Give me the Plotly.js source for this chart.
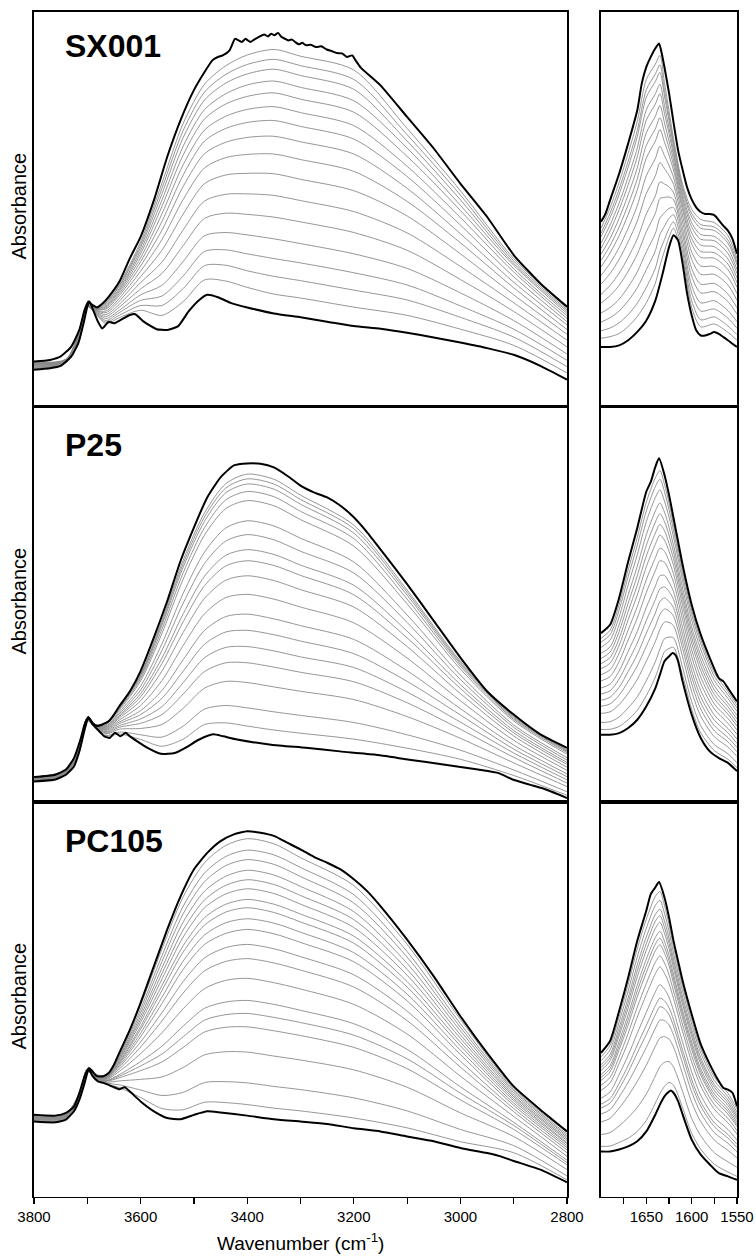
<!DOCTYPE html>
<html>
<head>
<meta charset="utf-8">
<script src="https://cdn.plot.ly/plotly-3.0.1.min.js"></script>
<style>html,body{margin:0;padding:0;background:#fff;}#chart{width:756px;height:1256px;}</style>
</head>
<body>
<div id="chart"></div>
<script>
// ---------- DATA (absorbance in relative units, 0-100 per panel) ----------
const PANEL_LABELS = ['SX001', 'P25', 'PC105'];
const X_TICKS_LEFT = [3800, 3600, 3400, 3200, 3000, 2800];
const X_MINOR_LEFT = [3700, 3500, 3300, 3100, 2900];
const X_TICKS_RIGHT = [1650, 1600, 1550];
const X_MINOR_RIGHT = [1675, 1625, 1575];

// wavenumbers of the grey (intermediate) spectra
const XL = [3800, 3740, 3715, 3700, 3685, 3665, 3640, 3600, 3560, 3520, 3480, 3440, 3400, 3350, 3300, 3200, 3100, 3000, 2900, 2800];
const XR = [1700, 1690, 1680, 1670, 1660, 1650, 1640, 1635, 1630, 1625, 1620, 1610, 1600, 1590, 1575, 1560, 1550];

// ---- SX001 ----
const SX001_BOT_L_X = [3800, 3770, 3750, 3730, 3717, 3707, 3700, 3696, 3688, 3680, 3672, 3660, 3650, 3638, 3620, 3610, 3594, 3570, 3550, 3530, 3510, 3490, 3475, 3455, 3430, 3400, 3350, 3300, 3250, 3200, 3150, 3100, 3050, 3000, 2950, 2900, 2850, 2800];
const SX001_BOT_L_Y = [9.3, 9.7, 10.3, 12.7, 16.0, 21.1, 25.3, 26.6, 24.1, 21.5, 19.8, 21.5, 21.1, 21.9, 23.2, 23.4, 21.5, 19.6, 19.4, 20.3, 24.1, 27.0, 28.3, 27.7, 26.2, 25.1, 23.6, 22.6, 21.5, 20.4, 19.7, 18.7, 17.5, 16.2, 14.8, 13.1, 10.3, 6.8];
const SX001_TOP_L_X = [3800, 3770, 3750, 3730, 3715, 3705, 3698, 3690, 3682, 3670, 3660, 3640, 3620, 3600, 3575, 3550, 3525, 3500, 3480, 3465, 3455, 3446, 3433, 3423, 3416, 3410, 3403, 3394, 3387, 3378, 3368, 3361, 3355, 3349, 3342, 3336, 3329, 3323, 3316, 3310, 3303, 3297, 3290, 3281, 3271, 3261, 3251, 3242, 3232, 3222, 3213, 3203, 3197, 3187, 3150, 3100, 3050, 3000, 2950, 2900, 2850, 2800];
const SX001_TOP_L_Y = [11.4, 11.8, 12.7, 15.2, 19.4, 24.5, 26.6, 25.7, 25.1, 26.3, 27.8, 31.6, 37.6, 43.0, 52.3, 63.3, 72.6, 80.2, 84.8, 87.8, 88.6, 89.0, 90.3, 93.2, 92.8, 92.4, 93.2, 92.4, 93.0, 93.7, 94.3, 93.8, 94.5, 94.1, 94.7, 93.7, 93.2, 92.8, 93.0, 92.4, 91.8, 92.2, 91.6, 91.7, 91.1, 91.3, 90.5, 90.1, 89.6, 89.5, 88.6, 89.0, 87.8, 85.9, 81.4, 73.4, 65.4, 56.5, 48.1, 38.4, 31.2, 25.3];
const SX001_GRAY_L = [
 [9.4, 11.1, 16.7, 25.3, 23.6, 21.0, 22.5, 24.4, 23.1, 26.6, 32.1, 31.8, 30.2, 28.5, 27.5, 25.2, 23.1, 19.6, 15.5, 8.5],
 [9.6, 11.1, 16.9, 25.4, 23.7, 21.4, 23.1, 25.6, 25.6, 29.9, 35.7, 35.8, 34.4, 33.0, 31.9, 29.5, 27.0, 22.6, 17.6, 10.1],
 [9.7, 11.2, 17.1, 25.4, 23.9, 21.8, 23.8, 26.9, 28.0, 33.1, 39.3, 39.7, 38.7, 37.5, 36.4, 33.9, 30.8, 25.5, 19.6, 11.7],
 [9.9, 11.3, 17.3, 25.4, 24.0, 22.3, 24.4, 28.3, 30.7, 36.8, 43.3, 44.1, 43.5, 42.5, 41.3, 38.7, 35.0, 28.8, 21.8, 13.3],
 [10.0, 11.4, 17.5, 25.5, 24.1, 22.8, 25.2, 29.8, 33.7, 40.8, 47.7, 49.0, 48.7, 48.0, 46.8, 44.1, 39.6, 32.2, 24.1, 15.1],
 [10.2, 11.4, 17.7, 25.5, 24.3, 23.3, 25.9, 31.4, 36.6, 44.8, 52.1, 53.8, 53.9, 53.5, 52.2, 49.4, 44.0, 35.5, 26.3, 16.8],
 [10.4, 11.5, 17.9, 25.6, 24.4, 23.8, 26.7, 32.9, 39.6, 48.8, 56.5, 58.7, 59.1, 59.0, 57.6, 54.7, 48.3, 38.7, 28.3, 18.3],
 [10.5, 11.6, 18.1, 25.6, 24.5, 24.2, 27.4, 34.3, 42.3, 52.5, 60.5, 63.1, 63.9, 64.0, 62.6, 59.6, 52.0, 41.5, 30.1, 19.5],
 [10.6, 11.6, 18.4, 25.6, 24.7, 24.7, 28.1, 35.6, 44.7, 55.8, 64.1, 67.0, 68.2, 68.5, 67.1, 64.0, 55.3, 43.8, 31.5, 20.7],
 [10.7, 11.7, 18.5, 25.7, 24.7, 25.0, 28.6, 36.7, 46.9, 58.7, 67.3, 70.5, 72.0, 72.5, 71.0, 67.8, 58.3, 46.0, 32.9, 21.5],
 [10.9, 11.7, 18.6, 25.7, 24.8, 25.3, 29.1, 37.7, 48.8, 61.3, 70.1, 73.6, 75.3, 76.0, 74.5, 71.2, 60.9, 47.9, 34.1, 22.3],
 [11.0, 11.8, 18.8, 25.7, 24.9, 25.6, 29.5, 38.7, 50.7, 63.8, 72.9, 76.7, 78.6, 79.5, 77.9, 74.6, 63.4, 49.7, 34.9, 23.0],
 [11.0, 11.8, 18.9, 25.7, 25.0, 25.9, 29.9, 39.5, 52.3, 66.0, 75.3, 79.3, 81.5, 82.5, 80.9, 77.5, 65.5, 51.0, 35.8, 23.6],
 [11.1, 11.9, 19.1, 25.8, 25.1, 26.2, 30.4, 40.3, 53.9, 68.2, 77.7, 82.0, 84.3, 85.5, 83.9, 80.4, 67.3, 52.4, 36.3, 24.1],
 [11.2, 11.9, 19.2, 25.8, 25.1, 26.4, 30.7, 41.0, 55.3, 70.0, 79.7, 84.2, 86.7, 88.0, 86.4, 82.9, 68.9, 53.6, 36.9, 24.5],
 [11.3, 12.0, 19.3, 25.8, 25.2, 26.7, 31.1, 41.7, 56.6, 71.8, 81.7, 86.4, 89.1, 90.5, 88.8, 85.3, 70.5, 54.7, 37.5, 24.9]
];
const SX001_BOT_R_X = [1700, 1690, 1680, 1670, 1660, 1650, 1640, 1632, 1625, 1620, 1615, 1610, 1605, 1600, 1595, 1590, 1585, 1580, 1575, 1570, 1565, 1560, 1555, 1550];
const SX001_BOT_R_Y = [15.1, 15.1, 15.5, 16.8, 18.9, 21.8, 26.9, 33.7, 40.4, 43.4, 42.1, 36.2, 28.6, 23.1, 19.3, 18.0, 18.0, 18.4, 18.9, 18.4, 17.6, 16.8, 15.9, 15.1];
const SX001_TOP_R_X = [1700, 1695, 1690, 1680, 1670, 1660, 1655, 1650, 1645, 1640, 1636, 1633, 1630, 1625, 1620, 1615, 1610, 1605, 1600, 1595, 1590, 1585, 1580, 1575, 1570, 1565, 1560, 1555, 1550];
const SX001_TOP_R_Y = [46.8, 48.9, 52.3, 59.0, 66.7, 75.1, 81.9, 86.1, 88.7, 90.8, 92.0, 89.5, 86.0, 79.5, 72.0, 65.0, 60.0, 55.5, 52.5, 50.5, 49.3, 48.8, 48.8, 48.5, 47.2, 45.8, 44.6, 42.5, 38.7];
const SX001_GRAY_R = [
 [17.3, 17.7, 18.5, 20.3, 22.8, 26.3, 31.3, 35.7, 39.4, 42.9, 45.2, 37.7, 25.1, 20.2, 20.9, 18.8, 16.8],
 [19.2, 19.9, 21.2, 23.3, 26.2, 30.2, 35.1, 39.4, 42.3, 45.1, 46.8, 39.0, 26.8, 22.0, 22.7, 20.4, 18.2],
 [21.4, 22.5, 24.2, 26.8, 30.1, 34.7, 39.5, 43.6, 45.7, 47.7, 48.6, 40.4, 28.8, 24.2, 24.7, 22.4, 19.8],
 [23.7, 25.1, 27.2, 30.3, 34.1, 39.2, 43.9, 47.8, 49.1, 50.2, 50.4, 41.9, 30.7, 26.3, 26.8, 24.3, 21.5],
 [26.2, 28.1, 30.7, 34.3, 38.6, 44.3, 49.0, 52.7, 53.0, 53.1, 52.4, 43.6, 33.0, 28.8, 29.1, 26.6, 23.4],
 [28.4, 30.7, 33.8, 37.8, 42.5, 48.8, 53.4, 56.9, 56.4, 55.7, 54.2, 45.1, 35.0, 31.0, 31.2, 28.5, 25.0],
 [31.0, 33.7, 37.3, 41.8, 47.0, 54.0, 58.5, 61.8, 60.3, 58.6, 56.3, 46.8, 37.3, 33.5, 33.5, 30.8, 26.9],
 [33.2, 36.3, 40.3, 45.2, 50.9, 58.5, 62.9, 66.0, 63.6, 61.1, 58.1, 48.3, 39.2, 35.6, 35.5, 32.7, 28.6],
 [35.4, 38.9, 43.3, 48.7, 54.9, 63.0, 67.3, 70.2, 67.0, 63.7, 59.9, 49.8, 41.2, 37.8, 37.6, 34.7, 30.2],
 [37.0, 40.8, 45.5, 51.2, 57.7, 66.2, 70.4, 73.2, 69.5, 65.5, 61.2, 50.8, 42.6, 39.3, 39.0, 36.1, 31.4],
 [38.6, 42.6, 47.7, 53.7, 60.5, 69.4, 73.6, 76.3, 71.9, 67.3, 62.5, 51.9, 44.0, 40.9, 40.5, 37.4, 32.6],
 [40.1, 44.5, 49.9, 56.2, 63.3, 72.6, 76.7, 79.3, 74.3, 69.2, 63.8, 52.9, 45.5, 42.4, 42.0, 38.8, 33.7],
 [41.4, 46.0, 51.6, 58.2, 65.5, 75.2, 79.3, 81.7, 76.3, 70.6, 64.8, 53.8, 46.6, 43.6, 43.1, 40.0, 34.7],
 [43.0, 47.8, 53.8, 60.7, 68.4, 78.4, 82.4, 84.7, 78.7, 72.4, 66.1, 54.9, 48.0, 45.2, 44.6, 41.4, 35.9],
 [43.9, 49.0, 55.1, 62.2, 70.0, 80.3, 84.3, 86.6, 80.1, 73.5, 66.9, 55.5, 48.9, 46.1, 45.5, 42.2, 36.6],
 [45.2, 50.4, 56.8, 64.2, 72.3, 82.9, 86.8, 89.0, 82.1, 75.0, 67.9, 56.3, 50.0, 47.4, 46.6, 43.3, 37.5]
];

// ---- P25 ----
const P25_BOT_L_X = [3800, 3760, 3740, 3725, 3715, 3705, 3698, 3690, 3675, 3668, 3658, 3648, 3638, 3628, 3620, 3607, 3587, 3562, 3536, 3516, 3490, 3464, 3445, 3419, 3355, 3290, 3226, 3161, 3096, 3032, 2967, 2928, 2902, 2870, 2838, 2800];
const P25_BOT_L_Y = [5.2, 5.7, 6.9, 9.0, 12.8, 18.3, 21.3, 19.6, 17.5, 16.6, 16.2, 17.5, 16.6, 17.5, 16.6, 15.4, 13.7, 12.2, 12.4, 13.7, 15.8, 17.1, 16.6, 15.8, 14.5, 13.7, 12.8, 12.0, 10.7, 9.5, 8.2, 7.3, 5.7, 4.4, 3.1, 1.0];
const P25_TOP_L_X = [3800, 3760, 3740, 3725, 3712, 3705, 3698, 3690, 3682, 3672, 3660, 3650, 3640, 3620, 3600, 3575, 3550, 3525, 3500, 3475, 3450, 3425, 3400, 3375, 3350, 3325, 3300, 3275, 3250, 3225, 3200, 3175, 3150, 3100, 3050, 3000, 2950, 2900, 2850, 2800];
const P25_TOP_L_Y = [6.3, 6.9, 8.2, 11.1, 16.2, 19.6, 21.5, 20.0, 19.2, 19.6, 20.4, 22.1, 24.2, 28.0, 33.1, 41.6, 50.8, 61.0, 69.4, 77.0, 82.1, 85.1, 85.6, 85.5, 84.6, 82.5, 80.0, 78.3, 77.0, 74.9, 72.0, 68.2, 63.9, 55.1, 45.8, 36.5, 28.0, 22.1, 17.1, 13.7];
const P25_GRAY_L = [
 [5.3, 7.0, 12.6, 20.5, 18.8, 16.6, 17.2, 15.8, 14.1, 15.9, 19.6, 20.0, 19.2, 18.2, 17.4, 15.9, 13.6, 10.8, 6.7, 1.7],
 [5.3, 7.1, 12.7, 20.6, 18.9, 16.8, 17.7, 17.0, 16.4, 19.2, 23.5, 24.4, 23.8, 22.8, 21.9, 20.1, 17.0, 13.1, 8.1, 2.6],
 [5.4, 7.2, 12.9, 20.7, 19.0, 17.2, 18.4, 18.6, 19.6, 23.7, 28.8, 30.5, 30.2, 29.1, 28.0, 25.9, 21.6, 16.1, 9.9, 3.9],
 [5.5, 7.3, 13.1, 20.7, 19.0, 17.4, 18.9, 19.9, 22.1, 27.3, 33.0, 35.2, 35.2, 34.1, 32.8, 30.4, 25.1, 18.4, 11.3, 4.8],
 [5.6, 7.3, 13.2, 20.8, 19.1, 17.6, 19.3, 21.0, 24.1, 30.2, 36.5, 39.1, 39.3, 38.2, 36.7, 34.0, 27.8, 20.2, 12.4, 5.6],
 [5.6, 7.4, 13.3, 20.8, 19.1, 17.8, 19.8, 22.1, 26.2, 33.1, 39.9, 43.0, 43.4, 42.3, 40.7, 37.5, 30.5, 22.0, 13.4, 6.4],
 [5.7, 7.5, 13.4, 20.9, 19.2, 18.1, 20.2, 23.1, 28.2, 36.0, 43.4, 46.9, 47.5, 46.3, 44.6, 41.1, 33.2, 23.6, 14.4, 7.1],
 [5.8, 7.6, 13.6, 20.9, 19.2, 18.3, 20.7, 24.4, 30.7, 39.6, 47.6, 51.7, 52.5, 51.3, 49.3, 45.3, 36.4, 25.6, 15.6, 8.0],
 [5.8, 7.7, 13.7, 21.0, 19.3, 18.5, 21.2, 25.6, 33.1, 42.9, 51.5, 56.1, 57.2, 56.0, 53.7, 49.3, 39.3, 27.4, 16.7, 8.8],
 [5.9, 7.7, 13.8, 21.0, 19.3, 18.7, 21.6, 26.6, 35.0, 45.6, 54.7, 59.7, 61.0, 59.8, 57.3, 52.4, 41.5, 28.7, 17.5, 9.5],
 [6.0, 7.8, 13.9, 21.1, 19.4, 18.9, 21.9, 27.4, 36.4, 47.6, 57.1, 62.4, 63.8, 62.6, 59.9, 54.8, 43.2, 29.7, 18.1, 10.0],
 [6.0, 7.9, 14.0, 21.1, 19.4, 19.1, 22.3, 28.3, 38.3, 50.3, 60.3, 66.0, 67.6, 66.3, 63.4, 57.9, 45.4, 31.0, 18.9, 10.6],
 [6.1, 7.9, 14.1, 21.1, 19.4, 19.2, 22.7, 29.3, 40.0, 52.8, 63.2, 69.3, 71.1, 69.8, 66.7, 60.7, 47.3, 32.1, 19.5, 11.2],
 [6.2, 8.0, 14.2, 21.2, 19.5, 19.5, 23.2, 30.6, 42.6, 56.4, 67.5, 74.2, 76.2, 74.9, 71.4, 64.7, 50.1, 33.6, 20.5, 12.1],
 [6.2, 8.1, 14.3, 21.2, 19.5, 19.6, 23.5, 31.2, 43.7, 58.0, 69.4, 76.4, 78.5, 77.2, 73.5, 66.6, 51.3, 34.3, 20.9, 12.5],
 [6.2, 8.1, 14.4, 21.2, 19.5, 19.7, 23.7, 31.7, 44.7, 59.4, 71.0, 78.2, 80.4, 79.1, 75.3, 68.0, 52.3, 34.8, 21.2, 12.8],
 [6.2, 8.1, 14.4, 21.3, 19.6, 19.8, 23.8, 32.0, 45.3, 60.3, 72.1, 79.4, 81.7, 80.4, 76.5, 69.1, 53.0, 35.2, 21.5, 13.0],
 [6.3, 8.1, 14.4, 21.3, 19.6, 19.9, 23.9, 32.3, 45.9, 61.2, 73.1, 80.5, 82.9, 81.6, 77.6, 70.0, 53.6, 35.6, 21.7, 13.2]
];
const P25_BOT_R_X = [1700, 1690, 1680, 1670, 1660, 1650, 1640, 1635, 1630, 1625, 1621, 1618, 1615, 1610, 1600, 1590, 1580, 1570, 1560, 1550];
const P25_BOT_R_Y = [17.0, 17.0, 17.4, 18.7, 20.8, 24.2, 28.8, 32.2, 35.6, 36.8, 37.7, 37.2, 35.6, 30.5, 22.1, 16.2, 12.8, 11.1, 9.9, 7.8];
const P25_TOP_R_X = [1700, 1690, 1680, 1670, 1660, 1650, 1645, 1640, 1636, 1630, 1625, 1620, 1615, 1610, 1600, 1590, 1580, 1570, 1565, 1560, 1555, 1550];
const P25_TOP_R_Y = [42.7, 44.8, 51.6, 60.8, 69.3, 78.5, 81.0, 84.8, 86.9, 82.7, 77.7, 71.8, 65.9, 60.0, 49.9, 42.3, 36.4, 31.3, 30.5, 28.8, 27.1, 25.4];
const P25_GRAY_R = [
 [18.3, 18.4, 19.1, 20.8, 23.2, 26.9, 31.6, 34.9, 38.0, 38.8, 39.1, 32.0, 23.5, 17.5, 13.0, 10.8, 8.7],
 [20.1, 20.3, 21.5, 23.8, 26.6, 30.7, 35.5, 38.7, 41.3, 41.7, 41.5, 34.0, 25.4, 19.3, 14.5, 12.2, 9.9],
 [22.4, 22.8, 24.6, 27.5, 31.0, 35.6, 40.6, 43.6, 45.5, 45.4, 44.6, 36.7, 27.9, 21.7, 16.5, 13.9, 11.5],
 [24.2, 24.8, 27.0, 30.5, 34.4, 39.4, 44.5, 47.4, 48.8, 48.3, 47.0, 38.8, 29.9, 23.5, 18.0, 15.2, 12.7],
 [25.7, 26.5, 29.0, 33.0, 37.3, 42.7, 47.8, 50.7, 51.6, 50.7, 49.1, 40.5, 31.6, 25.1, 19.3, 16.3, 13.8],
 [27.3, 28.1, 31.1, 35.5, 40.2, 45.9, 51.2, 53.9, 54.4, 53.2, 51.2, 42.3, 33.2, 26.6, 20.7, 17.5, 14.8],
 [28.8, 29.8, 33.1, 38.1, 43.1, 49.2, 54.6, 57.2, 57.3, 55.6, 53.2, 44.1, 34.9, 28.2, 22.0, 18.6, 15.9],
 [30.6, 31.7, 35.5, 41.0, 46.5, 53.0, 58.5, 61.0, 60.6, 58.5, 55.6, 46.1, 36.8, 30.0, 23.5, 19.9, 17.1],
 [32.2, 33.4, 37.6, 43.5, 49.4, 56.2, 61.8, 64.2, 63.4, 60.9, 57.7, 47.9, 38.5, 31.6, 24.8, 21.1, 18.2],
 [33.7, 35.1, 39.6, 46.1, 52.3, 59.5, 65.2, 67.5, 66.2, 63.4, 59.8, 49.7, 40.2, 33.2, 26.1, 22.2, 19.2],
 [35.0, 36.5, 41.3, 48.2, 54.8, 62.2, 68.0, 70.2, 68.6, 65.4, 61.5, 51.2, 41.6, 34.5, 27.2, 23.1, 20.1],
 [36.3, 37.9, 43.1, 50.3, 57.2, 64.9, 70.8, 72.9, 70.9, 67.5, 63.2, 52.6, 43.0, 35.8, 28.3, 24.1, 21.0],
 [37.6, 39.2, 44.8, 52.4, 59.6, 67.6, 73.6, 75.6, 73.3, 69.5, 64.9, 54.1, 44.3, 37.1, 29.4, 25.0, 21.9],
 [39.1, 40.9, 46.8, 54.9, 62.5, 70.9, 77.0, 78.9, 76.1, 72.0, 67.0, 55.9, 46.0, 38.6, 30.7, 26.2, 22.9],
 [40.4, 42.3, 48.5, 57.0, 64.9, 73.6, 79.8, 81.6, 78.5, 74.0, 68.7, 57.3, 47.4, 40.0, 31.8, 27.1, 23.8],
 [41.4, 43.4, 49.9, 58.7, 66.9, 75.8, 82.0, 83.8, 80.3, 75.7, 70.1, 58.5, 48.5, 41.0, 32.7, 27.9, 24.5]
];

// ---- PC105 ----
const PC105_BOT_L_X = [3800, 3760, 3740, 3725, 3715, 3705, 3700, 3697, 3690, 3680, 3670, 3660, 3650, 3640, 3630, 3620, 3600, 3575, 3550, 3525, 3500, 3475, 3450, 3400, 3350, 3300, 3250, 3200, 3150, 3100, 3050, 3000, 2950, 2928, 2900, 2850, 2800];
const PC105_BOT_L_Y = [19.0, 18.8, 19.5, 21.6, 24.5, 28.8, 31.3, 32.3, 30.5, 29.2, 28.8, 28.3, 27.7, 27.2, 27.7, 26.6, 24.1, 21.6, 19.9, 19.6, 20.7, 21.6, 21.3, 20.5, 19.6, 19.0, 18.4, 17.3, 16.5, 15.2, 14.0, 12.3, 11.0, 10.3, 9.0, 6.8, 3.6];
const PC105_TOP_L_X = [3800, 3760, 3740, 3725, 3715, 3705, 3697, 3690, 3682, 3670, 3660, 3650, 3640, 3620, 3600, 3575, 3550, 3525, 3500, 3475, 3450, 3425, 3400, 3375, 3350, 3325, 3300, 3275, 3250, 3225, 3200, 3175, 3150, 3100, 3050, 3000, 2950, 2900, 2850, 2800];
const PC105_TOP_L_Y = [20.7, 20.5, 21.2, 22.8, 26.2, 30.5, 32.6, 31.7, 30.5, 30.5, 31.3, 33.4, 36.4, 42.3, 49.1, 58.4, 67.7, 76.1, 82.9, 87.1, 90.1, 91.8, 92.6, 92.2, 91.4, 89.7, 88.0, 86.1, 84.6, 82.9, 80.4, 77.4, 73.6, 65.1, 55.8, 45.7, 36.4, 27.9, 22.0, 16.5];
const PC105_GRAY_L = [
 [19.1, 19.6, 24.6, 31.8, 29.8, 28.6, 27.6, 25.1, 22.3, 22.0, 23.9, 23.8, 23.3, 22.4, 21.7, 19.9, 17.4, 13.9, 11.1, 4.2],
 [19.2, 19.7, 24.7, 31.9, 29.9, 28.8, 28.3, 27.0, 25.6, 26.4, 28.9, 29.1, 28.8, 27.9, 27.1, 25.0, 21.7, 17.0, 12.9, 5.2],
 [19.4, 19.9, 24.9, 31.9, 30.1, 29.0, 29.3, 29.7, 30.3, 32.7, 35.9, 36.7, 36.6, 35.6, 34.6, 32.1, 27.7, 21.2, 15.2, 6.8],
 [19.5, 20.0, 25.0, 32.0, 30.2, 29.2, 30.1, 31.9, 34.1, 37.8, 41.7, 42.9, 43.0, 42.0, 40.8, 37.8, 32.4, 24.5, 17.0, 8.0],
 [19.6, 20.1, 25.1, 32.0, 30.2, 29.3, 30.5, 33.1, 36.1, 40.5, 44.7, 46.1, 46.4, 45.4, 44.1, 40.9, 34.9, 26.2, 18.0, 8.6],
 [19.7, 20.2, 25.2, 32.0, 30.3, 29.4, 30.9, 34.2, 38.1, 43.2, 47.7, 49.3, 49.7, 48.7, 47.2, 43.8, 37.3, 27.8, 18.8, 9.2],
 [19.8, 20.3, 25.3, 32.0, 30.4, 29.6, 31.7, 36.2, 41.5, 47.6, 52.7, 54.8, 55.3, 54.2, 52.6, 48.7, 41.2, 30.5, 20.3, 10.2],
 [19.9, 20.4, 25.4, 32.1, 30.5, 29.8, 32.3, 37.9, 44.5, 51.6, 57.2, 59.6, 60.3, 59.2, 57.4, 53.1, 44.6, 32.8, 21.5, 11.1],
 [20.0, 20.5, 25.5, 32.1, 30.5, 29.9, 32.8, 39.2, 46.6, 54.5, 60.5, 63.1, 63.9, 62.8, 60.8, 56.2, 47.0, 34.3, 22.3, 11.8],
 [20.1, 20.6, 25.6, 32.1, 30.6, 30.0, 33.2, 40.5, 48.9, 57.6, 63.9, 66.7, 67.7, 66.6, 64.4, 59.5, 49.6, 36.0, 23.1, 12.4],
 [20.2, 20.7, 25.7, 32.1, 30.6, 30.1, 33.6, 41.4, 50.5, 59.7, 66.3, 69.4, 70.4, 69.3, 67.0, 61.8, 51.3, 37.1, 23.7, 12.9],
 [20.2, 20.7, 25.7, 32.1, 30.7, 30.2, 33.9, 42.4, 52.2, 62.0, 68.8, 72.1, 73.2, 72.0, 69.6, 64.2, 53.1, 38.2, 24.3, 13.4],
 [20.3, 20.8, 25.8, 32.2, 30.7, 30.2, 34.2, 43.1, 53.5, 63.6, 70.7, 74.1, 75.3, 74.1, 71.6, 66.0, 54.5, 39.1, 24.8, 13.7],
 [20.4, 20.9, 25.9, 32.2, 30.8, 30.3, 34.6, 44.1, 55.1, 65.8, 73.2, 76.7, 78.0, 76.8, 74.1, 68.2, 56.1, 40.1, 25.3, 14.2],
 [20.4, 20.9, 25.9, 32.2, 30.8, 30.4, 34.9, 44.9, 56.5, 67.6, 75.2, 78.9, 80.3, 79.1, 76.3, 70.2, 57.6, 41.0, 25.7, 14.6],
 [20.5, 21.0, 26.0, 32.2, 30.9, 30.5, 35.2, 45.7, 57.9, 69.6, 77.4, 81.2, 82.7, 81.5, 78.6, 72.2, 59.1, 42.0, 26.2, 15.0],
 [20.5, 21.0, 26.0, 32.2, 30.9, 30.6, 35.5, 46.6, 59.5, 71.7, 79.8, 83.9, 85.4, 84.2, 81.1, 74.4, 60.7, 42.9, 26.7, 15.4],
 [20.6, 21.1, 26.1, 32.3, 30.9, 30.6, 35.8, 47.5, 61.0, 73.6, 82.0, 86.2, 87.8, 86.6, 83.4, 76.5, 62.1, 43.8, 27.1, 15.8],
 [20.6, 21.1, 26.1, 32.3, 31.0, 30.7, 36.2, 48.5, 62.7, 76.0, 84.6, 89.0, 90.7, 89.4, 85.9, 78.8, 63.9, 44.9, 27.5, 16.3]
];
const PC105_BOT_R_X = [1700, 1690, 1680, 1670, 1660, 1650, 1640, 1635, 1630, 1623, 1620, 1615, 1610, 1600, 1590, 1580, 1570, 1560, 1550];
const PC105_BOT_R_Y = [11.4, 11.4, 11.9, 12.7, 14.0, 16.5, 20.8, 23.3, 25.4, 26.9, 26.3, 24.2, 20.8, 14.4, 10.6, 8.1, 5.9, 5.1, 4.2];
const PC105_TOP_R_X = [1700, 1690, 1680, 1670, 1660, 1650, 1645, 1640, 1636, 1630, 1625, 1620, 1615, 1610, 1600, 1590, 1580, 1570, 1565, 1560, 1555, 1550];
const PC105_TOP_R_Y = [36.4, 39.4, 47.0, 55.5, 64.8, 72.5, 76.7, 78.4, 79.7, 75.8, 70.8, 64.8, 59.7, 54.7, 46.2, 38.6, 33.5, 29.2, 27.5, 27.1, 26.3, 22.9];
const PC105_GRAY_R = [
 [12.7, 12.8, 13.7, 14.8, 16.5, 19.3, 23.7, 26.1, 27.9, 28.9, 28.2, 22.5, 16.0, 12.0, 8.2, 6.2, 5.1],
 [15.7, 16.2, 17.9, 20.0, 22.6, 26.0, 30.6, 32.9, 34.0, 34.2, 32.8, 26.6, 19.8, 15.4, 11.1, 8.8, 7.4],
 [18.9, 19.8, 22.4, 25.5, 29.2, 33.3, 38.1, 40.2, 40.5, 39.9, 37.9, 31.0, 23.9, 19.0, 14.3, 11.7, 9.8],
 [20.9, 22.0, 25.2, 29.0, 33.3, 37.8, 42.7, 44.7, 44.6, 43.5, 40.9, 33.7, 26.5, 21.2, 16.2, 13.5, 11.3],
 [22.4, 23.7, 27.3, 31.5, 36.4, 41.1, 46.1, 48.1, 47.6, 46.1, 43.2, 35.7, 28.4, 22.9, 17.7, 14.8, 12.4],
 [23.4, 24.8, 28.7, 33.2, 38.4, 43.4, 48.4, 50.3, 49.6, 47.9, 44.8, 37.1, 29.7, 24.0, 18.7, 15.7, 13.2],
 [24.9, 26.5, 30.9, 35.8, 41.4, 46.7, 51.9, 53.7, 52.6, 50.5, 47.1, 39.1, 31.6, 25.7, 20.1, 17.0, 14.3],
 [26.9, 28.8, 33.7, 39.2, 45.5, 51.2, 56.5, 58.2, 56.6, 54.0, 50.2, 41.8, 34.1, 28.0, 22.1, 18.7, 15.8],
 [28.2, 30.2, 35.4, 41.4, 48.0, 54.0, 59.4, 61.0, 59.2, 56.2, 52.1, 43.5, 35.7, 29.4, 23.3, 19.8, 16.7],
 [29.4, 31.6, 37.2, 43.5, 50.6, 56.8, 62.3, 63.8, 61.7, 58.5, 54.0, 45.2, 37.3, 30.8, 24.5, 20.9, 17.7],
 [30.2, 32.4, 38.2, 44.8, 52.1, 58.5, 64.0, 65.5, 63.2, 59.8, 55.2, 46.2, 38.3, 31.6, 25.2, 21.6, 18.2],
 [30.9, 33.2, 39.3, 46.1, 53.6, 60.2, 65.7, 67.2, 64.7, 61.1, 56.3, 47.2, 39.2, 32.4, 26.0, 22.3, 18.8],
 [31.9, 34.4, 40.7, 47.8, 55.7, 62.4, 68.0, 69.5, 66.7, 62.9, 57.9, 48.6, 40.5, 33.6, 26.9, 23.1, 19.5],
 [32.7, 35.2, 41.7, 49.1, 57.2, 64.1, 69.8, 71.2, 68.2, 64.2, 59.0, 49.6, 41.4, 34.4, 27.7, 23.8, 20.1],
 [33.4, 36.0, 42.8, 50.4, 58.7, 65.8, 71.5, 72.8, 69.8, 65.5, 60.2, 50.6, 42.4, 35.2, 28.4, 24.5, 20.7],
 [34.4, 37.2, 44.2, 52.1, 60.7, 68.0, 73.8, 75.1, 71.8, 67.3, 61.7, 52.0, 43.7, 36.4, 29.4, 25.3, 21.4],
 [35.4, 38.3, 45.6, 53.8, 62.8, 70.3, 76.1, 77.3, 73.8, 69.0, 63.3, 53.3, 44.9, 37.5, 30.3, 26.2, 22.2]
];

// ---------- BUILD ----------
const FONT = 'Liberation Sans, Arial, sans-serif';
const GRAY = 'rgb(138,138,138)';
const W = 756, H = 1256;
const LEFT_DOM = [34 / W, 567 / W];
const RIGHT_DOM = [601 / W, 737 / W];
const ROW_PX = [[12, 406.5], [406.5, 802], [802, 1196.5]];
const rowDom = r => [1 - ROW_PX[r][1] / H, 1 - ROW_PX[r][0] / H];

const panels = [
  {grayL: SX001_GRAY_L, grayR: SX001_GRAY_R, bl: [SX001_BOT_L_X, SX001_BOT_L_Y], tl: [SX001_TOP_L_X, SX001_TOP_L_Y], br: [SX001_BOT_R_X, SX001_BOT_R_Y], tr: [SX001_TOP_R_X, SX001_TOP_R_Y]},
  {grayL: P25_GRAY_L, grayR: P25_GRAY_R, bl: [P25_BOT_L_X, P25_BOT_L_Y], tl: [P25_TOP_L_X, P25_TOP_L_Y], br: [P25_BOT_R_X, P25_BOT_R_Y], tr: [P25_TOP_R_X, P25_TOP_R_Y]},
  {grayL: PC105_GRAY_L, grayR: PC105_GRAY_R, bl: [PC105_BOT_L_X, PC105_BOT_L_Y], tl: [PC105_TOP_L_X, PC105_TOP_L_Y], br: [PC105_BOT_R_X, PC105_BOT_R_Y], tr: [PC105_TOP_R_X, PC105_TOP_R_Y]}
];

const traces = [];
function line(x, y, xa, ya, color, width, smooth) {
  traces.push({type: 'scatter', mode: 'lines', x: x, y: y, xaxis: xa, yaxis: ya,
    line: {color: color, width: width, shape: 'spline', smoothing: smooth}, hoverinfo: 'skip', showlegend: false});
}
panels.forEach((p, r) => {
  const xl = 'x' + (r === 0 ? '' : (2 * r + 1)), yl = 'y' + (r === 0 ? '' : (2 * r + 1));
  const xr = 'x' + (2 * r + 2), yr = 'y' + (2 * r + 2);
  p.grayL.forEach(row => line(XL, row, xl, yl, GRAY, 0.9, 0.8));
  p.grayR.forEach(row => line(XR, row, xr, yr, GRAY, 0.9, 0.8));
  line(p.bl[0], p.bl[1], xl, yl, '#000', 2, 0.5);
  line(p.tl[0], p.tl[1], xl, yl, '#000', 2, 0.5);
  line(p.br[0], p.br[1], xr, yr, '#000', 2, 0.6);
  line(p.tr[0], p.tr[1], xr, yr, '#000', 2, 0.6);
});

const layout = {
  width: W, height: H, autosize: false,
  margin: {l: 0, r: 0, t: 0, b: 0, pad: 0},
  paper_bgcolor: '#fff', plot_bgcolor: '#fff',
  showlegend: false,
  font: {family: FONT, color: '#000'},
  annotations: []
};
const baseAxis = {showline: true, mirror: true, linecolor: '#000', linewidth: 1.6, showgrid: false, zeroline: false, fixedrange: true};
for (let r = 0; r < 3; r++) {
  const iL = 2 * r + 1, iR = 2 * r + 2;
  const kxL = iL === 1 ? 'xaxis' : 'xaxis' + iL, kyL = iL === 1 ? 'yaxis' : 'yaxis' + iL;
  const kxR = 'xaxis' + iR, kyR = 'yaxis' + iR;
  const yaL = iL === 1 ? 'y' : 'y' + iL, xaL = iL === 1 ? 'x' : 'x' + iL;
  const bottom = r === 2;
  const tickPart = (vals, minor) => bottom ? {
    ticks: 'outside', ticklen: 6, tickwidth: 1.2, tickcolor: '#000',
    tickmode: 'array', tickvals: vals, ticktext: vals.map(String), showticklabels: true,
    ticklabelstandoff: 0,
    tickfont: {family: FONT, size: 15, color: '#000'},
    minor: {tickmode: 'array', tickvals: minor, ticks: 'outside', ticklen: 6, tickwidth: 1.2, tickcolor: '#000', showgrid: false}
  } : {ticks: '', showticklabels: false};
  layout[kxL] = Object.assign({}, baseAxis, {domain: LEFT_DOM, anchor: yaL, range: [3800, 2800]}, tickPart(X_TICKS_LEFT, X_MINOR_LEFT));
  layout[kxR] = Object.assign({}, baseAxis, {domain: RIGHT_DOM, anchor: 'y' + iR, range: [1700, 1550]}, tickPart(X_TICKS_RIGHT, X_MINOR_RIGHT));
  layout[kyL] = Object.assign({}, baseAxis, {domain: rowDom(r), anchor: xaL, range: [0, 100], ticks: '', showticklabels: false});
  layout[kyR] = Object.assign({}, baseAxis, {domain: rowDom(r), anchor: 'x' + iR, range: [0, 100], ticks: '', showticklabels: false});
}

// panel labels
const LABEL_Y_PX = [46, 445, 841];
PANEL_LABELS.forEach((t, r) => {
  layout.annotations.push({xref: 'paper', yref: 'paper', x: 63 / W, y: 1 - LABEL_Y_PX[r] / H, xanchor: 'left', yanchor: 'middle',
    text: '<b>' + t + '</b>', showarrow: false, font: {family: FONT, size: 32, color: '#000'}});
});
// y-axis titles
const ABS_Y_PX = [206, 601, 996];
ABS_Y_PX.forEach(yp => {
  layout.annotations.push({xref: 'paper', yref: 'paper', x: 18.5 / W, y: 1 - yp / H, xanchor: 'center', yanchor: 'middle',
    text: 'Absorbance', textangle: -90, showarrow: false, font: {family: FONT, size: 20, color: '#000'}});
});
// x-axis title
layout.annotations.push({xref: 'paper', yref: 'paper', x: 300.5 / W, y: 1 - 1242 / H, xanchor: 'center', yanchor: 'middle',
  text: 'Wavenumber (cm<sup>-1</sup>)', showarrow: false, font: {family: FONT, size: 19, color: '#000'}});

Plotly.newPlot('chart', traces, layout, {staticPlot: true, displayModeBar: false});
</script>
</body>
</html>
